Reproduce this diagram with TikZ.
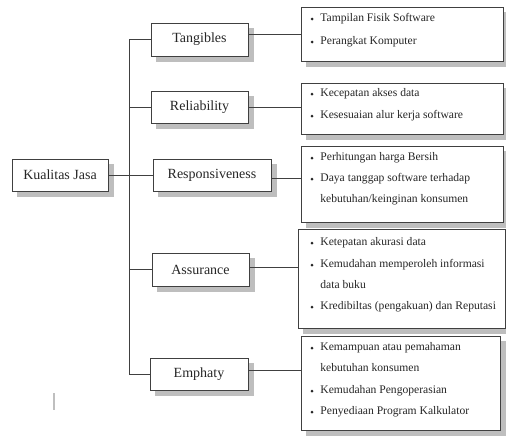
\documentclass[tikz,border=0pt]{standalone}
\usepackage{fontspec}
\setmainfont{Liberation Serif}
\definecolor{shadowgray}{RGB}{190,190,190}
\begin{document}
\begin{tikzpicture}[x=1pt,y=-1pt,
  line width=0.8pt,
  conn/.style={draw=black!75, line width=0.8pt},
  box/.style={draw=black!75, fill=white, line width=0.8pt, inner sep=0pt, outer sep=0pt},
  mainbox/.style={box, font=\fontsize{14}{16}\selectfont, text=black!85},
  itembox/.style={box},
  item/.style={anchor=mid west, inner sep=0pt, font=\fontsize{11.6}{14}\selectfont, text=black!85},
  bul/.style={fill=black!85},
  shadowfill/.style={fill=shadowgray, draw=shadowgray, line width=0.1pt}
]
\useasboundingbox (0,0) rectangle (506,437);

% drop shadows (drawn first, behind the boxes)
\path[shadowfill] (17,164) rectangle (113,196);
\path[shadowfill] (156,28) rectangle (253,61);
\path[shadowfill] (156,96) rectangle (253,128);
\path[shadowfill] (158,164) rectangle (276,196);
\path[shadowfill] (157,258) rectangle (254,291);
\path[shadowfill] (155,363) rectangle (253,395);
\path[shadowfill] (306,12) rectangle (508,66);
\path[shadowfill] (306,88) rectangle (508,139);
\path[shadowfill] (306,151) rectangle (508,227);
\path[shadowfill] (303,234) rectangle (510,333);
\path[shadowfill] (306,341) rectangle (505,435);

% left-hand boxes
\node[mainbox, minimum width=96pt, minimum height=32pt] (kj)   at (60,175)    {Kualitas Jasa};
\node[mainbox, minimum width=97pt, minimum height=33pt] (tang) at (199.5,39.5) {Tangibles};
\node[mainbox, minimum width=97pt, minimum height=32pt] (rel)  at (199.5,107)  {Reliability};
\node[mainbox, minimum width=118pt, minimum height=32pt] (resp) at (212,175)   {Responsiveness};
\node[mainbox, minimum width=97pt, minimum height=33pt] (ass)  at (200.5,269.5) {Assurance};
\node[mainbox, minimum width=98pt, minimum height=32pt] (emp)  at (199,374)    {Emphaty};

% right-hand boxes
\node[itembox, minimum width=202pt, minimum height=54pt] (b1) at (402,34) {};
\node[itembox, minimum width=202pt, minimum height=51pt] (b2) at (402,108.5) {};
\node[itembox, minimum width=202pt, minimum height=76pt] (b3) at (402,184) {};
\node[itembox, minimum width=207pt, minimum height=99pt] (b4) at (401.5,278.5) {};
\node[itembox, minimum width=199pt, minimum height=94pt] (b5) at (400.5,383) {};

% tree connectors
\draw[conn] (kj.east) -- (resp.west);
\draw[conn] (tang.west) -- ++(-22,0) coordinate (jt);
\draw[conn] (jt) |- (emp.west);
\draw[conn] (jt |- rel.west) -- (rel.west);
\draw[conn] (jt |- ass.west) -- (ass.west);

% connectors to detail boxes
\draw[conn] ([yshift=5.5pt]tang.east) -- ([yshift=5.5pt]tang.east -| b1.west);
\draw[conn] (rel.east) -- (rel.east -| b2.west);
\draw[conn] ([yshift=-3pt]resp.east) -- ([yshift=-3pt]resp.east -| b3.west);
\draw[conn] ([yshift=2.5pt]ass.east) -- ([yshift=2.5pt]ass.east -| b4.west);
\draw[conn] ([yshift=4pt]emp.east) -- ([yshift=4pt]emp.east -| b5.west);

% items
\foreach \y in {19,42, 94,116, 158,179, 243,265,307, 348,391,412}
  \fill[bul] (312,\y) circle (1.5pt);

\node[item] (t11) at (320,19)  {Tampilan Fisik Software};
\node[item] (t12) at (320,42)  {Perangkat Komputer};
\node[item] (t21) at (320,94)  {Kecepatan akses data};
\node[item] (t22) at (320,116) {Kesesuaian alur kerja software};
\node[item] (t31) at (320,158) {Perhitungan harga Bersih};
\node[item] (t32) at (320,179) {Daya tanggap software terhadap};
\node[item] (t33) at (320,200) {kebutuhan/keinginan konsumen};
\node[item] (t41) at (320,243) {Ketepatan akurasi data};
\node[item] (t42) at (320,265) {Kemudahan memperoleh informasi};
\node[item] (t43) at (320,286) {data buku};
\node[item] (t44) at (320,307) {Kredibiltas (pengakuan) dan Reputasi};
\node[item] (t51) at (320,348) {Kemampuan atau pemahaman};
\node[item] (t52) at (320,369) {kebutuhan konsumen};
\node[item] (t53) at (320,391) {Kemudahan Pengoperasian};
\node[item] (t54) at (320,412) {Penyediaan Program Kalkulator};

% stray mark
\draw[black!25, line width=1.2pt] (54,393) -- (54,410);
\end{tikzpicture}
\end{document}
